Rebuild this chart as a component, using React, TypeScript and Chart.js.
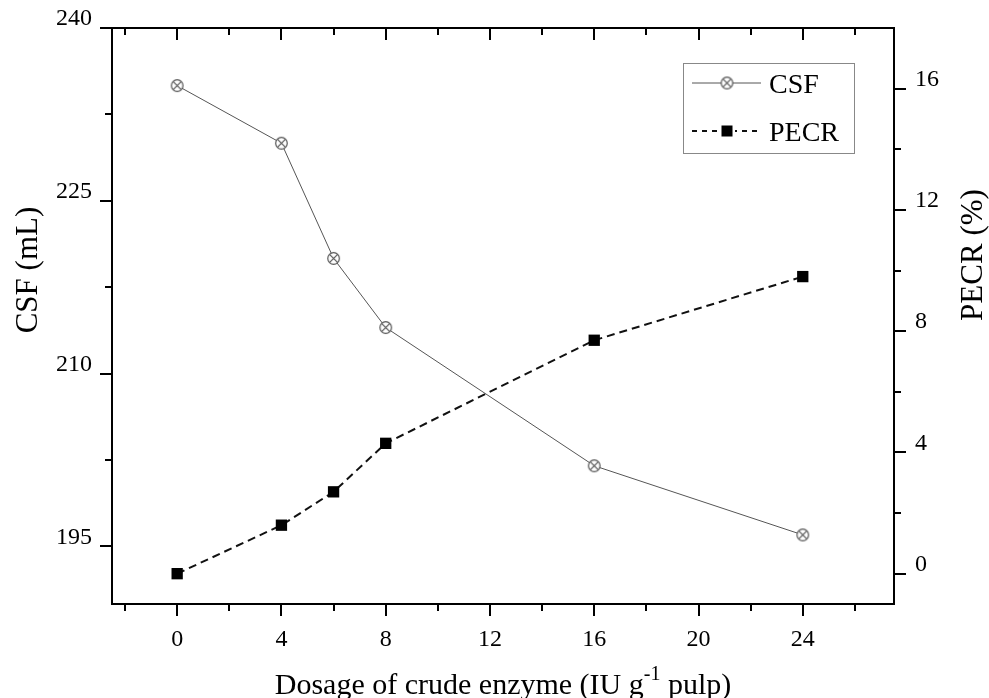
import { useEffect, useRef } from 'react';
import { Chart, registerables } from 'chart.js';

Chart.register(...registerables);

const dosage = [0, 4, 6, 8, 16, 24];
const csf = [235, 230, 220, 214, 202, 196];
const pecr = [0, 1.6, 2.7, 4.3, 7.7, 9.8];
const seriesNames = ['CSF', 'PECR'];

const xTicks = [-2, 0, 2, 4, 6, 8, 10, 12, 14, 16, 18, 20, 22, 24, 26];
const xMajor = [0, 4, 8, 12, 16, 20, 24];
const yTicks = [195, 202.5, 210, 217.5, 225, 232.5, 240];
const yMajor = [195, 210, 225, 240];
const y1Ticks = [0, 2, 4, 6, 8, 10, 12, 14, 16];
const y1Major = [0, 4, 8, 12, 16];

const xTitleParts = ['Dosage of crude enzyme (IU g', '-1', ' pulp)'];
const yTitle = 'CSF (mL)';
const y1Title = 'PECR (%)';

const FONT = '"Liberation Serif", "Times New Roman", serif';

function makeCircleX(): HTMLCanvasElement {
  const c = document.createElement('canvas');
  c.width = 15;
  c.height = 15;
  const g = c.getContext('2d')!;
  const r = 5.8;
  g.fillStyle = '#fff';
  g.strokeStyle = '#555';
  g.lineWidth = 1.2;
  g.beginPath();
  g.arc(7.5, 7.5, r, 0, Math.PI * 2);
  g.fill();
  g.stroke();
  const d = r * Math.SQRT1_2;
  g.beginPath();
  g.moveTo(7.5 - d, 7.5 - d);
  g.lineTo(7.5 + d, 7.5 + d);
  g.moveTo(7.5 + d, 7.5 - d);
  g.lineTo(7.5 - d, 7.5 + d);
  g.stroke();
  return c;
}

export default function App() {
  const ref = useRef<HTMLCanvasElement | null>(null);

  useEffect(() => {
    document.body.style.margin = '0';
    const canvas = ref.current;
    if (!canvas) return;
    const marker = makeCircleX();

    const isIn = (arr: number[], v: number) => arr.some((a) => Math.abs(a - v) < 1e-6);

    const framePlugin = {
      id: 'frame',
      afterDatasetsDraw(chart: any) {
        const ctx = chart.ctx as CanvasRenderingContext2D;
        const { left, right, top, bottom } = chart.chartArea;
        const xs = chart.scales.x;
        const ys = chart.scales.y;
        const y1s = chart.scales.y1;
        ctx.save();
        ctx.strokeStyle = '#000';
        ctx.lineWidth = 2;
        ctx.setLineDash([]);
        ctx.beginPath();
        ctx.rect(left, top, right - left, bottom - top);
        ctx.stroke();
        ctx.beginPath();
        xTicks.forEach((v) => {
          const px = Math.round(xs.getPixelForValue(v));
          const len = isIn(xMajor, v) ? 12 : 7;
          ctx.moveTo(px, bottom);
          ctx.lineTo(px, bottom + len);
          ctx.moveTo(px, top);
          ctx.lineTo(px, top + len);
        });
        yTicks.forEach((v) => {
          const py = Math.round(ys.getPixelForValue(v));
          const len = isIn(yMajor, v) ? 12 : 7;
          ctx.moveTo(left - len, py);
          ctx.lineTo(left, py);
        });
        y1Ticks.forEach((v) => {
          const py = Math.round(y1s.getPixelForValue(v));
          const len = isIn(y1Major, v) ? 12 : 7;
          ctx.moveTo(right, py);
          ctx.lineTo(right + len, py);
        });
        ctx.stroke();

        // axis titles
        ctx.fillStyle = '#000';
        ctx.textBaseline = 'alphabetic';
        ctx.font = `31px ${FONT}`;
        ctx.save();
        ctx.translate(37, 270);
        ctx.rotate(-Math.PI / 2);
        ctx.textAlign = 'center';
        ctx.fillText(yTitle, 0, 0);
        ctx.restore();
        ctx.save();
        ctx.translate(982, 255);
        ctx.rotate(-Math.PI / 2);
        ctx.textAlign = 'center';
        ctx.fillText(y1Title, 0, 0);
        ctx.restore();

        // x title with superscript
        ctx.textAlign = 'left';
        const mainFont = `30px ${FONT}`;
        const supFont = `20px ${FONT}`;
        ctx.font = mainFont;
        const w0 = ctx.measureText(xTitleParts[0]).width;
        const w2 = ctx.measureText(xTitleParts[2]).width;
        ctx.font = supFont;
        const w1 = ctx.measureText(xTitleParts[1]).width;
        const total = w0 + w1 + w2;
        let sx = (left + right) / 2 - total / 2;
        const base = 694;
        ctx.font = mainFont;
        ctx.fillText(xTitleParts[0], sx, base);
        sx += w0;
        ctx.font = supFont;
        ctx.fillText(xTitleParts[1], sx, base - 14);
        sx += w1;
        ctx.font = mainFont;
        ctx.fillText(xTitleParts[2], sx, base);

        // legend
        ctx.strokeStyle = '#888';
        ctx.lineWidth = 1;
        ctx.strokeRect(683.5, 63.5, 171, 90);
        const rows = [83, 131];
        ctx.strokeStyle = '#555';
        ctx.lineWidth = 1;
        ctx.beginPath();
        ctx.moveTo(692, rows[0]);
        ctx.lineTo(761, rows[0]);
        ctx.stroke();
        ctx.drawImage(marker, 727 - 7.5, rows[0] - 7.5);
        ctx.strokeStyle = '#111';
        ctx.lineWidth = 2;
        ctx.setLineDash([5, 5]);
        ctx.beginPath();
        ctx.moveTo(692, rows[1]);
        ctx.lineTo(761, rows[1]);
        ctx.stroke();
        ctx.setLineDash([]);
        ctx.fillStyle = '#fff';
        ctx.fillRect(727 - 8, rows[1] - 8, 16, 16);
        ctx.fillStyle = '#000';
        ctx.fillRect(727 - 5.5, rows[1] - 5.5, 11, 11);
        ctx.font = `28px ${FONT}`;
        ctx.textBaseline = 'alphabetic';
        ctx.fillText(seriesNames[0], 769, 93);
        ctx.fillText(seriesNames[1], 769, 141);
        ctx.restore();
      },
    };

    const tickFont = { family: FONT, size: 24 };

    const chart = new Chart(canvas, {
      type: 'line',
      data: {
        datasets: [
          {
            label: seriesNames[0],
            data: dosage.map((x, i) => ({ x, y: csf[i] })),
            yAxisID: 'y',
            borderColor: '#555',
            borderWidth: 1,
            pointStyle: marker as any,
            pointRadius: 6,
            tension: 0,
          },
          {
            label: seriesNames[1],
            data: dosage.map((x, i) => ({ x, y: pecr[i] })),
            yAxisID: 'y1',
            borderColor: '#111',
            borderWidth: 2,
            borderDash: [8, 5],
            pointStyle: 'rect',
            pointRadius: 8,
            pointBackgroundColor: '#000',
            pointBorderColor: '#000',
            pointBorderWidth: 0,
            tension: 0,
          },
        ],
      },
      options: {
        animation: false,
        responsive: false,
        devicePixelRatio: 1,
        layout: { padding: { top: 28, left: 0, right: 0, bottom: 0 } },
        plugins: {
          legend: { display: false },
          tooltip: { enabled: false },
        },
        scales: {
          x: {
            type: 'linear',
            position: 'bottom',
            min: -2.5,
            max: 27.5,
            afterBuildTicks: (s: any) => {
              s.ticks = xTicks.map((v) => ({ value: v }));
            },
            afterFit: (s: any) => {
              s.height = 94;
            },
            border: { display: false },
            grid: { display: true, drawOnChartArea: false, drawTicks: true, tickLength: 12, color: 'rgba(0,0,0,0)' },
            ticks: {
              autoSkip: false,
              maxRotation: 0,
              padding: 9,
              color: '#000',
              font: tickFont,
              callback: (v: any) => (isIn(xMajor, Number(v)) ? String(v) : ''),
            },
          },
          y: {
            type: 'linear',
            position: 'left',
            min: 190,
            max: 240,
            afterBuildTicks: (s: any) => {
              s.ticks = yTicks.map((v) => ({ value: v }));
            },
            afterFit: (s: any) => {
              s.width = 112;
            },
            border: { display: false },
            grid: { display: true, drawOnChartArea: false, drawTicks: true, tickLength: 12, color: 'rgba(0,0,0,0)' },
            ticks: {
              autoSkip: false,
              padding: 8,
              labelOffset: -9,
              color: '#000',
              font: tickFont,
              callback: (v: any) => (isIn(yMajor, Number(v)) ? String(v) : ''),
            },
          },
          y1: {
            type: 'linear',
            position: 'right',
            min: -1,
            max: 18,
            afterBuildTicks: (s: any) => {
              s.ticks = y1Ticks.map((v) => ({ value: v }));
            },
            afterFit: (s: any) => {
              s.width = 95;
            },
            border: { display: false },
            grid: { display: true, drawOnChartArea: false, drawTicks: true, tickLength: 12, color: 'rgba(0,0,0,0)' },
            ticks: {
              autoSkip: false,
              padding: 9,
              labelOffset: -9,
              color: '#000',
              font: tickFont,
              callback: (v: any) => (isIn(y1Major, Number(v)) ? String(v) : ''),
            },
          },
        },
      },
      plugins: [framePlugin],
    } as any);

    return () => {
      chart.destroy();
    };
  }, []);

  return (
    <div style={{ position: 'absolute', left: 0, top: 0, width: 989, height: 698, background: '#fff' }}>
      <canvas ref={ref} width={989} height={698} style={{ display: 'block' }} />
    </div>
  );
}
